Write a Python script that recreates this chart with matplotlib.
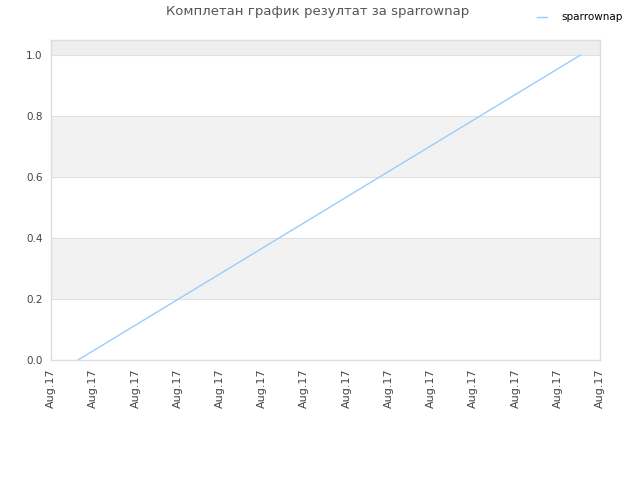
import matplotlib
matplotlib.use("Agg")
import matplotlib.pyplot as plt

# data
x_vals = [0.64, 12.53]
y_vals = [0.0, 1.0]
x_ticks = list(range(14))
x_labels = ["Aug.17"] * 14
y_ticks = [0.0, 0.2, 0.4, 0.6, 0.8, 1.0]
series_name = "sparrownap"
title = "Комплетан график резултат за sparrownap"

fig = plt.figure(figsize=(6.4, 4.8), dpi=100)
ax = fig.add_axes([51 / 640, 1 - 360 / 480, 549 / 640, 320 / 480])

ax.set_xlim(0, 13)
ax.set_ylim(0, 1.05)

# alternating bands
for lo, hi, c in [(0.2, 0.4, "#f2f2f2"), (0.6, 0.8, "#f2f2f2"), (1.0, 1.05, "#eeeeee")]:
    ax.axhspan(lo, hi, color=c, zorder=0, lw=0)
for yv in y_ticks[1:]:
    ax.axhline(yv, color="#e0e0e0", lw=0.8, zorder=1)

ax.plot(x_vals, y_vals, color="#99ccff", lw=1, zorder=2, label=series_name)

ax.set_xticks(x_ticks)
ax.set_xticklabels(x_labels, rotation=90, fontsize=8, color="#444444")
ax.set_yticks(y_ticks)
ax.set_yticklabels([f"{v:.1f}" for v in y_ticks], fontsize=7.5, color="#444444")
ax.tick_params(length=0, pad=6)
for s in ax.spines.values():
    s.set_color("#dddddd")
    s.set_linewidth(1)

fig.text(318 / 640, 1 - 12 / 480, title, ha="center", va="center", fontsize=9.5, color="#555555")
fig.legend(loc="upper right", bbox_to_anchor=(632 / 640, 1 - 3 / 480), frameon=False,
           fontsize=7.5, handlelength=0.9, handletextpad=1.4)

fig.savefig("out.png", dpi=100)
